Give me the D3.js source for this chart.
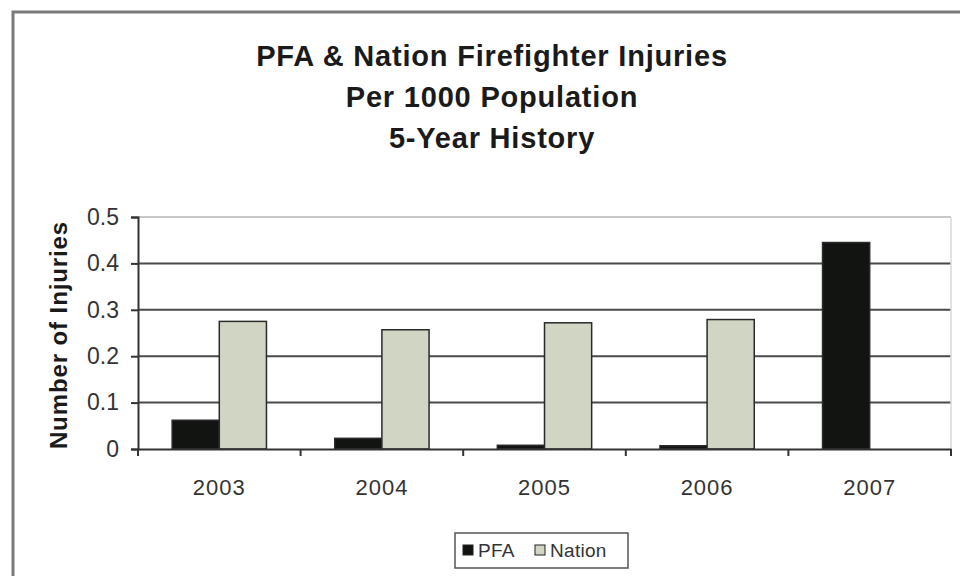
<!DOCTYPE html>
<html>
<head>
<meta charset="utf-8">
<script src="https://cdn.jsdelivr.net/npm/d3@7"></script>
<style>
  body { margin: 0; background: #fff; }
  svg { display: block; font-family: "Liberation Sans", Arial, sans-serif; }
</style>
</head>
<body>
<svg id="chart" width="960" height="576"></svg>
<script>
// chart data
const years = ["2003", "2004", "2005", "2006", "2007"];
const seriesNames = ["PFA", "Nation"];
const pfa = [0.062, 0.023, 0.008, 0.007, 0.445];
const nation = [0.275, 0.257, 0.272, 0.279, 0];
const yTicks = [0, 0.1, 0.2, 0.3, 0.4, 0.5];
const titleLines = ["PFA & Nation Firefighter Injuries", "Per 1000 Population", "5-Year History"];

const colors = { PFA: "#111411", Nation: "#d0d6c3" };

const svg = d3.select("#chart");
const margin = { left: 138, right: 951, top: 217, bottom: 449 };

// outer frame
svg.append("rect")
	.attr("x", 13).attr("y", 12)
	.attr("width", 952).attr("height", 570)
	.attr("fill", "none").attr("stroke", "#7a7a7a").attr("stroke-width", 3);

// title
svg.append("g").selectAll("text")
	.data(titleLines)
	.join("text")
	.attr("x", 492)
	.attr("y", (d, i) => 66 + i * 41)
	.attr("text-anchor", "middle")
	.attr("font-size", 29)
	.attr("letter-spacing", 0.8)
	.attr("font-weight", "bold")
	.attr("fill", "#1a1a1a")
	.text(d => d);

const x0 = d3.scaleBand().domain(years).range([margin.left, margin.right]);
const x1 = d3.scaleBand().domain(seriesNames)
	.range([x0.bandwidth() * 0.21, x0.bandwidth() * 0.79]);
const y = d3.scaleLinear().domain([0, 0.5]).range([margin.bottom, margin.top]);

// gridlines
svg.append("g").selectAll("line")
	.data(yTicks.filter(d => d > 0))
	.join("line")
	.attr("x1", margin.left).attr("x2", margin.right)
	.attr("y1", d => y(d)).attr("y2", d => y(d))
	.attr("stroke", d => d === 0.5 ? "#c8c8c8" : "#4a4a4a")
	.attr("stroke-width", 2);

// faint right plot edge
svg.append("line")
	.attr("x1", margin.right).attr("x2", margin.right)
	.attr("y1", margin.top).attr("y2", margin.bottom)
	.attr("stroke", "#d8d8d8").attr("stroke-width", 1.5);

// bars
const rows = years.map((yr, i) => ({ year: yr, PFA: pfa[i], Nation: nation[i] }));
const groups = svg.append("g").selectAll("g")
	.data(rows)
	.join("g")
	.attr("transform", d => `translate(${x0(d.year)},0)`);

groups.selectAll("rect")
	.data(d => seriesNames.map(k => ({ key: k, value: d[k] })).filter(e => e.value > 0))
	.join("rect")
	.attr("x", d => x1(d.key))
	.attr("y", d => y(d.value))
	.attr("width", x1.bandwidth())
	.attr("height", d => y(0) - y(d.value))
	.attr("fill", d => colors[d.key])
	.attr("stroke", "#2a2a2a")
	.attr("stroke-width", 1.5);

// y axis
const yAxis = svg.append("g")
	.attr("transform", `translate(${margin.left},0)`)
	.call(d3.axisLeft(y).tickValues(yTicks).tickFormat(d3.format("~g")).tickSize(7).tickPadding(12));
yAxis.select(".domain").attr("stroke", "#333").attr("stroke-width", 2);
yAxis.selectAll(".tick line").attr("stroke", "#333").attr("stroke-width", 2);
yAxis.selectAll("text").attr("font-size", 23).attr("fill", "#333").attr("font-family", "Liberation Sans, Arial, sans-serif");

// x axis
const xAxis = svg.append("g")
	.attr("transform", `translate(0,${margin.bottom})`)
	.call(d3.axisBottom(x0).tickSize(0).tickPadding(30));
xAxis.select(".domain").attr("stroke", "#333").attr("stroke-width", 2);
xAxis.selectAll("text").attr("font-size", 22).attr("letter-spacing", 1).attr("fill", "#333").attr("font-family", "Liberation Sans, Arial, sans-serif");

// category boundary ticks
svg.append("g").selectAll("line")
	.data(years.map(d => x0(d)).concat([margin.right]))
	.join("line")
	.attr("x1", d => d).attr("x2", d => d)
	.attr("y1", margin.bottom).attr("y2", margin.bottom + 7)
	.attr("stroke", "#333").attr("stroke-width", 2);

// y axis title
svg.append("text")
	.attr("transform", "translate(67,335) rotate(-90)")
	.attr("text-anchor", "middle")
	.attr("font-size", 24)
	.attr("letter-spacing", 0.9)
	.attr("font-weight", "bold")
	.attr("fill", "#1a1a1a")
	.text("Number of Injuries");

// legend
const legend = svg.append("g").attr("transform", "translate(455,533)");
legend.append("rect")
	.attr("width", 173).attr("height", 35)
	.attr("fill", "#fff").attr("stroke", "#555").attr("stroke-width", 1.5);
const items = legend.selectAll("g")
	.data(seriesNames)
	.join("g")
	.attr("transform", (d, i) => `translate(${[8, 80][i]},12)`);
items.append("rect")
	.attr("width", 10).attr("height", 10)
	.attr("fill", d => colors[d])
	.attr("stroke", "#222").attr("stroke-width", 1);
items.append("text")
	.attr("x", 15).attr("y", 12)
	.attr("font-size", 19)
	.attr("letter-spacing", 0.3)
	.attr("fill", "#333")
	.text(d => d);
</script>
</body>
</html>
